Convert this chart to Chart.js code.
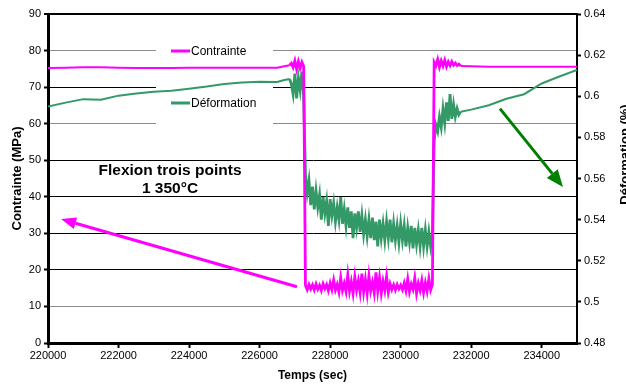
<!DOCTYPE html>
<html>
<head>
<meta charset="utf-8">
<script src="https://cdn.jsdelivr.net/npm/chart.js@4.4.0/dist/chart.umd.min.js"></script>
<style>
  html, body { margin: 0; padding: 0; background: #fff; }
  canvas { display: block; }
</style>
</head>
<body>
<canvas id="graphe" width="626" height="385"></canvas>
<script>
    "use strict";

    // Temps (sec) : partie lente, puis mesures tous les 50 s autour du palier, puis fin
    var tempsDebut = [220000, 220500, 221000, 221500, 222000, 222500, 223000, 223500, 224000,
        224500, 225000, 225500, 226000, 226500, 226700, 226850];
    var tempsFin = [232000, 232500, 233000, 233500, 234000, 234500, 235000];
    var tempsBruit = [];
    for (var t = 226900; t <= 231700; t += 50) {
        tempsBruit.push(t);
    }

    // Contrainte (MPa)
    var contrainteDebut = [75.2, 75.3, 75.4, 75.4, 75.3, 75.2, 75.2, 75.2, 75.3, 75.3, 75.3, 75.3,
        75.3, 75.3, 75.7, 76.0];
    var contrainteBruit = [
        76.5, 75.4, 77.2, 74.9, 77.0, 75.2, 76.8, 75.6,
        15.8, 14.6, 16.0, 14.8, 15.9, 14.5, 16.1, 14.7, 15.8, 14.4,
        16.2, 14.9, 16.0, 14.3, 16.4, 14.6, 17.2, 14.5, 16.0, 13.9,
        17.8, 14.4, 16.3, 14.1, 18.6, 14.2, 16.8, 13.6, 18.1, 14.5,
        17.0, 13.8, 19.0, 14.0, 17.4, 13.5, 18.4, 14.3, 16.6, 13.7,
        19.3, 14.2, 17.9, 13.6, 16.9, 14.4, 18.2, 13.9, 16.2, 14.6,
        15.9, 14.5, 16.0, 14.8, 15.8, 14.6, 16.4, 14.3, 17.5, 14.0,
        16.1, 14.7, 17.8, 13.6, 16.3, 14.4, 17.1, 13.8, 16.5, 14.2,
        17.6, 14.5, 16.0,
        76.8, 75.9, 77.6, 75.5, 77.2, 75.8, 77.4, 75.6, 76.9, 75.9, 77.0, 76.0, 76.6, 75.9, 76.3, 75.8];
    var contrainteFin = [75.7, 75.6, 75.6, 75.6, 75.6, 75.6, 75.6];

    // Déformation (%)
    var deformationDebut = [0.595, 0.5969, 0.5986, 0.5983, 0.6003, 0.6013, 0.6022, 0.6027, 0.6037,
        0.6047, 0.6059, 0.6067, 0.6071, 0.6069, 0.6079, 0.6084];
    var deformationBruit = [
        0.606, 0.601, 0.611, 0.599, 0.609, 0.603, 0.612, 0.600,
        0.562, 0.553, 0.559, 0.547, 0.556, 0.545, 0.554, 0.546, 0.552, 0.540,
        0.551, 0.543, 0.549, 0.537, 0.550, 0.542, 0.548, 0.539, 0.546, 0.540,
        0.551, 0.538, 0.545, 0.537, 0.546, 0.536, 0.544, 0.531, 0.543, 0.536,
        0.544, 0.534, 0.542, 0.533, 0.540, 0.532, 0.540, 0.531, 0.541, 0.530,
        0.539, 0.527, 0.540, 0.531, 0.538, 0.530, 0.539, 0.531, 0.540, 0.529,
        0.538, 0.530, 0.537, 0.529, 0.538, 0.530, 0.537, 0.527, 0.536, 0.529,
        0.537, 0.526, 0.536, 0.528, 0.535, 0.527, 0.536, 0.527, 0.535, 0.527,
        0.534, 0.527, 0.533,
        0.578, 0.586, 0.583, 0.590, 0.585, 0.594, 0.587, 0.597, 0.588, 0.601, 0.589, 0.596,
        0.590, 0.594, 0.591, 0.5925];
    var deformationFin = [0.5935, 0.5956, 0.5988, 0.6010, 0.6062, 0.6096, 0.6128];

    // Graduations
    var ticksTemps = [220000, 222000, 224000, 226000, 228000, 230000, 232000, 234000];
    var ticksContrainte = [0, 10, 20, 30, 40, 50, 60, 70, 80, 90];
    var ticksDeformation = [0.48, 0.5, 0.52, 0.54, 0.56, 0.58, 0.6, 0.62, 0.64];
    var grilleGrise = [10, 60, 80];

    var temps = tempsDebut.concat(tempsBruit, tempsFin);
    var contrainte = contrainteDebut.concat(contrainteBruit, contrainteFin);
    var deformation = deformationDebut.concat(deformationBruit, deformationFin);

    function points(valeurs) {
        return temps.map(function (t, i) {
            return {x: t, y: valeurs[i]};
        });
    }

    // trait plus épais sur la zone bruitée
    function epaisseur(c) {
        var x = c.p0.parsed.x;
        return (x >= 226850 && x < 231700) ? 2.8 : 2;
    }

    var police = "'Liberation Sans', Arial, sans-serif";
    Chart.defaults.font.family = police;
    Chart.defaults.color = '#000';

    // Fond blanc
    var fond = {
        id: 'fond',
        beforeDraw: function (chart) {
            var ctx = chart.ctx;
            ctx.save();
            ctx.fillStyle = '#fff';
            ctx.fillRect(0, 0, chart.width, chart.height);
            ctx.restore();
        }
    };

    // Légende dans le graphique (boite blanche sous les courbes)
    var legende = {
        id: 'legende',
        beforeDatasetsDraw: function (chart) {
            var ctx = chart.ctx;
            ctx.save();
            ctx.fillStyle = '#fff';
            ctx.fillRect(156, 38, 117, 97);
            var items = [['Contrainte', '#ff00ff', 51], ['Déformation', '#339966', 103]];
            items.forEach(function (it) {
                ctx.strokeStyle = it[1];
                ctx.lineWidth = 3;
                ctx.beginPath();
                ctx.moveTo(171, it[2]);
                ctx.lineTo(190, it[2]);
                ctx.stroke();
                ctx.fillStyle = '#000';
                ctx.font = '12px ' + police;
                ctx.textBaseline = 'middle';
                ctx.textAlign = 'left';
                ctx.fillText(it[0], 191, it[2] + 1);
            });
            ctx.restore();
        }
    };

    function fleche(ctx, x1, y1, x2, y2, couleur, largeur, longueur, demi) {
        var a = Math.atan2(y2 - y1, x2 - x1);
        var bx = x2 - longueur * Math.cos(a), by = y2 - longueur * Math.sin(a);
        ctx.strokeStyle = couleur;
        ctx.fillStyle = couleur;
        ctx.lineWidth = largeur;
        ctx.beginPath();
        ctx.moveTo(x1, y1);
        ctx.lineTo(bx, by);
        ctx.stroke();
        ctx.beginPath();
        ctx.moveTo(x2, y2);
        ctx.lineTo(bx + demi * Math.sin(a), by - demi * Math.cos(a));
        ctx.lineTo(bx - demi * Math.sin(a), by + demi * Math.cos(a));
        ctx.closePath();
        ctx.fill();
    }

    // Texte, flèches et titre de l'axe de droite
    var annotations = {
        id: 'annotations',
        afterDatasetsDraw: function (chart) {
            var ctx = chart.ctx, sx = chart.scales.x, sy = chart.scales.y;
            ctx.save();
            ctx.fillStyle = '#000';
            ctx.font = 'bold 15.5px ' + police;
            ctx.textAlign = 'center';
            ctx.textBaseline = 'alphabetic';
            ctx.fillText('Flexion trois points', sx.getPixelForValue(223460), sy.getPixelForValue(46.0));
            ctx.fillText('1 350°C', sx.getPixelForValue(223460), sy.getPixelForValue(41.0));

            fleche(ctx, sx.getPixelForValue(227060), sy.getPixelForValue(15.4),
                sx.getPixelForValue(220370), sy.getPixelForValue(33.9), '#ff00ff', 3, 15, 6);
            fleche(ctx, sx.getPixelForValue(232815), sy.getPixelForValue(64.1),
                sx.getPixelForValue(234602), sy.getPixelForValue(42.7), '#008000', 3, 17, 7);

            ctx.translate(619, (chart.chartArea.top + chart.chartArea.bottom) / 2 - 24);
            ctx.rotate(-Math.PI / 2);
            ctx.fillStyle = '#000';
            ctx.font = 'bold 13px ' + police;
            ctx.textAlign = 'center';
            ctx.textBaseline = 'top';
            ctx.fillText('Déformation (%)', 0, 0);
            ctx.restore();
        }
    };

    var graphe = new Chart(document.getElementById('graphe'), {
        type: 'line',
        data: {
            datasets: [{
                label: 'Contrainte',
                data: points(contrainte),
                borderColor: '#ff00ff',
                borderWidth: 2,
                pointRadius: 0,
                segment: {borderWidth: epaisseur},
                yAxisID: 'y'
            }, {
                label: 'Déformation',
                data: points(deformation),
                borderColor: '#339966',
                borderWidth: 2,
                pointRadius: 0,
                segment: {borderWidth: epaisseur},
                yAxisID: 'y2'
            }]
        },
        options: {
            responsive: false,
            animation: false,
            layout: {padding: {top: 14, left: 0, right: 0, bottom: 0}},
            plugins: {
                legend: {display: false},
                tooltip: {enabled: false}
            },
            scales: {
                x: {
                    type: 'linear',
                    min: 220000,
                    max: 235000,
                    afterBuildTicks: function (s) {
                        s.ticks = ticksTemps.map(function (v) { return {value: v}; });
                    },
                    afterFit: function (s) { s.height = 42; },
                    grid: {drawOnChartArea: false, tickLength: 5, tickWidth: 2, tickColor: '#000'},
                    border: {color: '#000', width: 3},
                    ticks: {
                        color: '#000', font: {size: 11}, padding: 1, maxRotation: 0, autoSkip: false,
                        callback: function (v) { return String(v); }
                    },
                    title: {
                        display: true, text: 'Temps (sec)', color: '#000',
                        font: {size: 12, weight: 'bold'}, padding: {top: 0, bottom: 2}
                    }
                },
                y: {
                    position: 'left',
                    min: 0,
                    max: 90,
                    afterBuildTicks: function (s) {
                        s.ticks = ticksContrainte.map(function (v) { return {value: v}; });
                    },
                    afterFit: function (s) { s.width = 48; },
                    grid: {
                        color: function (c) {
                            return grilleGrise.indexOf(c.tick && c.tick.value) >= 0 ? '#8c8c8c' : '#000';
                        },
                        lineWidth: function (c) {
                            return c.tick && c.tick.value === 90 ? 2 : 1;
                        },
                        tickLength: 4, tickWidth: 2, tickColor: '#000'
                    },
                    border: {color: '#000', width: 3},
                    ticks: {color: '#000', font: {size: 11}, padding: 3},
                    title: {
                        display: true, text: 'Contrainte (MPa)', color: '#000',
                        font: {size: 13, weight: 'bold'}, padding: {top: 10, bottom: 0}
                    }
                },
                y2: {
                    position: 'right',
                    min: 0.48,
                    max: 0.64,
                    afterBuildTicks: function (s) {
                        s.ticks = ticksDeformation.map(function (v) { return {value: v}; });
                    },
                    afterFit: function (s) { s.width = 49; },
                    grid: {drawOnChartArea: false, tickLength: 4, tickWidth: 2, tickColor: '#000'},
                    border: {color: '#000', width: 2},
                    ticks: {
                        color: '#000', font: {size: 11}, padding: 3,
                        callback: function (v) { return String(+v.toFixed(2)); }
                    }
                }
            }
        },
        plugins: [fond, legende, annotations]
    });
</script>
</body>
</html>
